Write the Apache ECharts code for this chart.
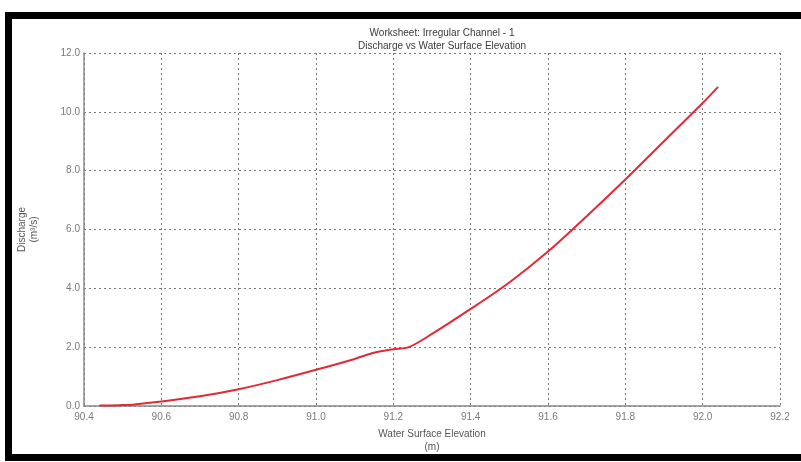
<!DOCTYPE html>
<html>
<head>
<meta charset="utf-8">
<script src="https://cdn.jsdelivr.net/npm/echarts@6/dist/echarts.min.js"></script>
<style>
html,body{margin:0;padding:0;background:#fff;}
#chart{width:801px;height:462px;}
</style>
</head>
<body>
<div id="chart"></div>
<script>
var titleLines = ['Worksheet: Irregular Channel - 1', 'Discharge vs Water Surface Elevation'];
var xAxisName = 'Water Surface Elevation\n(m)';
var yAxisName = 'Discharge\n(m³/s)';
var elevation = [90.44, 90.47, 90.50, 90.53, 90.60, 90.70, 90.80, 90.90, 91.00, 91.10, 91.15, 91.20, 91.24, 91.30, 91.40, 91.50, 91.60, 91.70, 91.80, 91.90, 92.00, 92.04];
var discharge = [0.02, 0.02, 0.03, 0.05, 0.15, 0.33, 0.57, 0.88, 1.23, 1.60, 1.81, 1.93, 2.00, 2.45, 3.30, 4.20, 5.25, 6.45, 7.70, 9.00, 10.30, 10.85];

var pts = elevation.map(function (x, i) { return [x, discharge[i]]; });
var chart = echarts.init(document.getElementById('chart'));
var labelStyle = { color: '#7a7a7a', fontSize: 10, fontFamily: 'Liberation Sans, Arial, sans-serif' };
chart.setOption({
  animation: false,
  title: {
    text: titleLines.join('\n'),
    left: 437, top: 22, textAlign: 'center',
    textStyle: { fontSize: 10, fontWeight: 'normal', color: '#3a3a3a', lineHeight: 13, fontFamily: 'Liberation Sans, Arial, sans-serif' }
  },
  grid: { left: 84, right: 21, top: 53, bottom: 56 },
  xAxis: {
    type: 'value', min: 90.4, max: 92.2, interval: 0.2,
    name: xAxisName, nameLocation: 'middle', nameGap: 22,
    nameTextStyle: { color: '#555', fontSize: 10, lineHeight: 13, fontFamily: 'Liberation Sans, Arial, sans-serif' },
    axisLine: { show: true, lineStyle: { color: '#888', width: 1.5 } },
    axisTick: { show: false },
    axisLabel: Object.assign({ formatter: function (v) { return v.toFixed(1); }, margin: 6 }, labelStyle),
    splitLine: { show: true, lineStyle: { color: '#777', type: [2, 3], width: 1 } }
  },
  yAxis: {
    type: 'value', min: 0, max: 12, interval: 2,
    name: yAxisName, nameLocation: 'middle', nameGap: 44, nameRotate: 90,
    nameTextStyle: { color: '#555', fontSize: 10, lineHeight: 12, fontFamily: 'Liberation Sans, Arial, sans-serif' },
    axisLine: { show: true, lineStyle: { color: '#888', width: 1.5 } },
    axisTick: { show: false },
    axisLabel: Object.assign({ formatter: function (v) { return v.toFixed(1); }, margin: 4 }, labelStyle),
    splitLine: { show: true, lineStyle: { color: '#777', type: [2, 3], width: 1 } }
  },
  series: [{
    type: 'line', data: pts, smooth: 0.3, showSymbol: false,
    lineStyle: { color: '#e02a35', width: 2 }
  }],
  graphic: [{
    type: 'rect', silent: true, z: 100,
    shape: { x: 8.5, y: 15.5, width: 830, height: 442 },
    style: { fill: 'none', stroke: '#000', lineWidth: 7 }
  }]
});
</script>
</body>
</html>
